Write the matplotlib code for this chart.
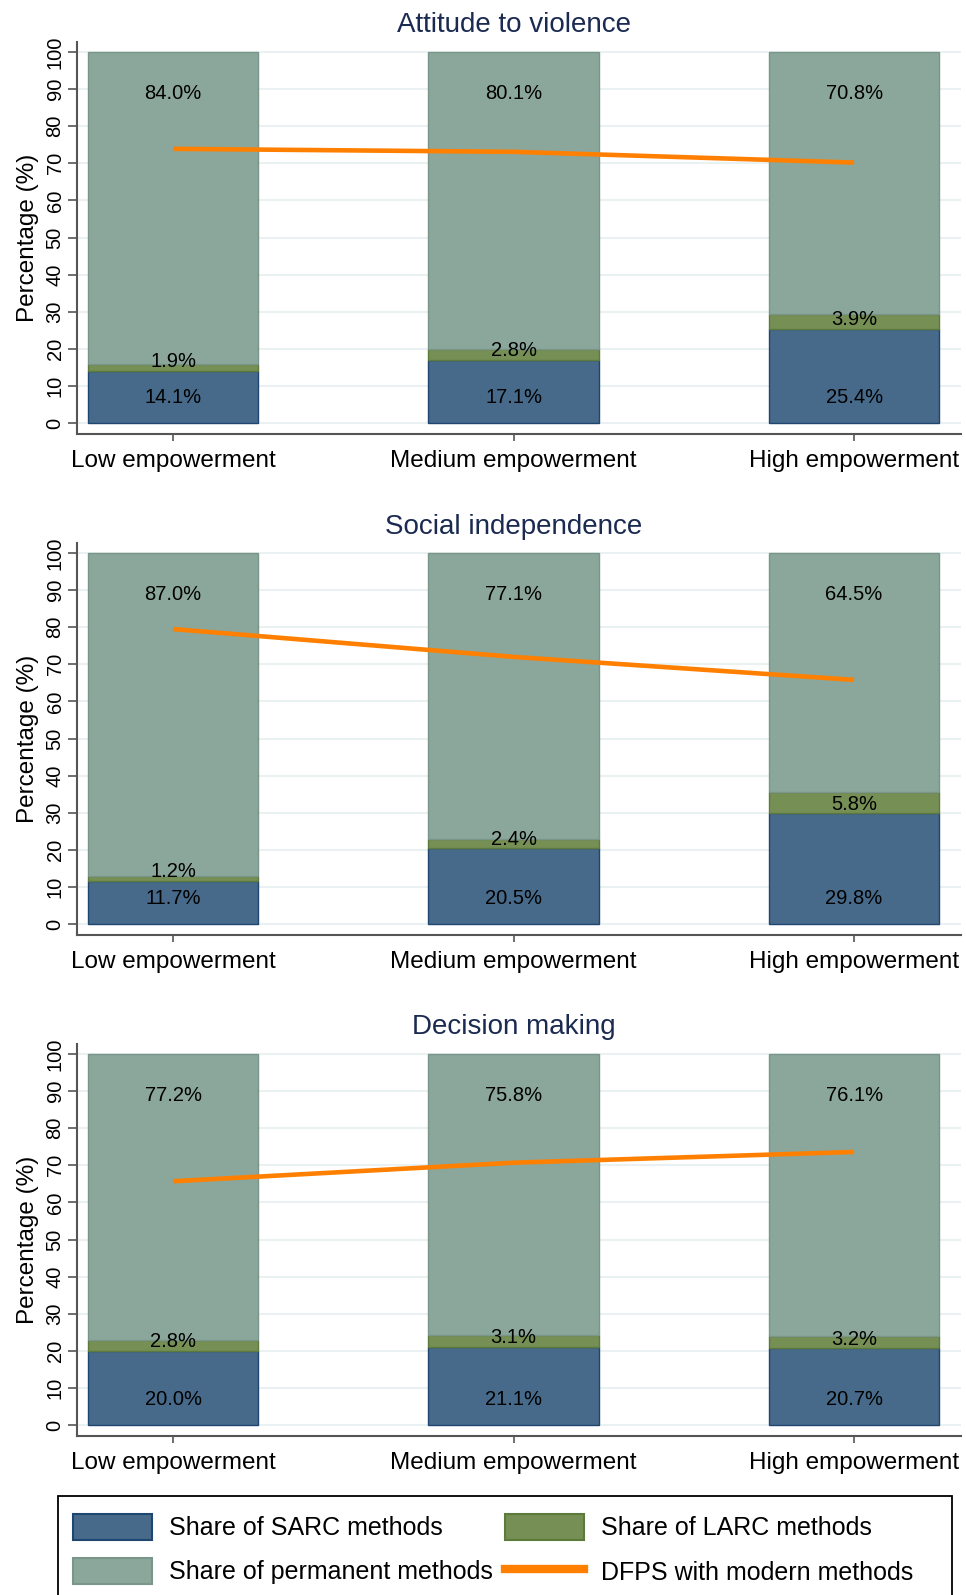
import matplotlib
matplotlib.use("Agg")
import matplotlib.pyplot as plt
import matplotlib.transforms as mtransforms
from matplotlib.patches import Patch, Rectangle
from matplotlib.lines import Line2D
import numpy as np

plt.rcParams['font.family'] = ['Liberation Sans', 'DejaVu Sans']

categories = ["Low empowerment", "Medium empowerment", "High empowerment"]
panel_titles = ["Attitude to violence", "Social independence", "Decision making"]

sarc = [[14.1, 17.1, 25.4], [11.7, 20.5, 29.8], [20.0, 21.1, 20.7]]
larc = [[1.9, 2.8, 3.9], [1.2, 2.4, 5.8], [2.8, 3.1, 3.2]]
permanent = [[84.0, 80.1, 70.8], [87.0, 77.1, 64.5], [77.2, 75.8, 76.1]]
dfps = [[73.9, 73.1, 70.2], [79.5, 72.0, 65.8], [65.7, 70.7, 73.6]]

yticks = list(range(0, 101, 10))

C_SARC = "#476a8a"
C_SARC_E = "#1f4670"
C_LARC = "#768f54"
C_LARC_E = "#5b7a3c"
C_PERM = "#8ba69a"
C_PERM_E = "#7a968a"
C_DFPS = "#ff8000"
C_TITLE = "#1a2a50"
C_GRID = "#eaf1f2"
C_AX = "#555555"

W, H = 966, 1595
fig = plt.figure(figsize=(W / 100, H / 100), dpi=100)

tops = [42, 543, 1044]
ax_h = 392
ax_left = 77
ax_right = 961

for p in range(3):
    top = tops[p]
    ax = fig.add_axes([ax_left / W, 1 - (top + ax_h) / H, (ax_right - ax_left) / W, ax_h / H])
    x = np.arange(len(categories))
    s = np.array(sarc[p]); l = np.array(larc[p]); pm = np.array(permanent[p])
    ax.bar(x, s, width=0.5, color=C_SARC, edgecolor=C_SARC_E, linewidth=1.0, zorder=2)
    ax.bar(x, l, width=0.5, bottom=s, color=C_LARC, edgecolor=C_LARC_E, linewidth=1.0, zorder=2)
    ax.bar(x, pm, width=0.5, bottom=s + l, color=C_PERM, edgecolor=C_PERM_E, linewidth=1.0, zorder=2)
    ax.plot(x, dfps[p], color=C_DFPS, linewidth=3.3, zorder=4, solid_capstyle='butt')
    for i in range(len(categories)):
        ax.text(x[i], 7.0, f"{s[i]:.1f}%", ha='center', va='center', fontsize=14.5, color='black', zorder=5)
        ax.text(x[i], s[i] + 2.4, f"{l[i]:.1f}%", ha='center', va='center', fontsize=14.5, color='black', zorder=5)
        ax.text(x[i], 88.7, f"{pm[i]:.1f}%", ha='center', va='center', fontsize=14.5, color='black', zorder=5)

    ax.set_xlim(-0.282, 2.314)
    ax.set_ylim(-2.965, 102.7)
    ax.set_yticks(yticks)
    ax.set_yticklabels([str(t) for t in yticks], rotation=90, va='center', fontsize=14.5)
    ax.set_xticks(x)
    ax.set_xticklabels(categories, fontsize=17.5)
    ax.tick_params(axis='y', length=6.5, width=1.2, color=C_AX, pad=2.5)
    ax.tick_params(axis='x', length=5, width=1.2, color=C_AX, pad=6.5)
    ax.grid(axis='y', color=C_GRID, linewidth=1.5, zorder=0)
    ax.set_axisbelow(True)
    for side in ['top', 'right']:
        ax.spines[side].set_visible(False)
    for side in ['left', 'bottom']:
        ax.spines[side].set_color(C_AX)
        ax.spines[side].set_linewidth(1.5)
    ax.set_ylabel("Percentage (%)", fontsize=17.5, labelpad=5)
    trans = mtransforms.blended_transform_factory(ax.transData, fig.transFigure)
    title_y = [25.5, 527, 1027][p]
    ax.text(1, 1 - title_y / H, panel_titles[p], transform=trans, ha='center', va='center',
            fontsize=20, color=C_TITLE)

handles = [
    Patch(facecolor=C_SARC, edgecolor=C_SARC_E, linewidth=1.5),
    Patch(facecolor=C_PERM, edgecolor=C_PERM_E, linewidth=1.5),
    Patch(facecolor=C_LARC, edgecolor=C_LARC_E, linewidth=1.5),
    Line2D([0], [0], color=C_DFPS, linewidth=6),
]
labels = ["Share of SARC methods", "Share of permanent methods",
          "Share of LARC methods", "DFPS with modern methods"]
leg = fig.legend(handles, labels, ncol=2, loc='upper left',
                 bbox_to_anchor=(58 / W, 1 - 1499 / H, 0, 0),
                 fontsize=18, handlelength=3.16, handleheight=1.2,
                 handletextpad=0.68, labelspacing=0.72, columnspacing=0.5,
                 borderpad=0.6, borderaxespad=0, frameon=False)

fig.add_artist(Rectangle((58 / W, -0.02), (952 - 58) / W, (1 - 1496 / H) + 0.02,
                         transform=fig.transFigure, fill=False, edgecolor='black',
                         linewidth=1.3))

fig.savefig("out.png", dpi=100)
